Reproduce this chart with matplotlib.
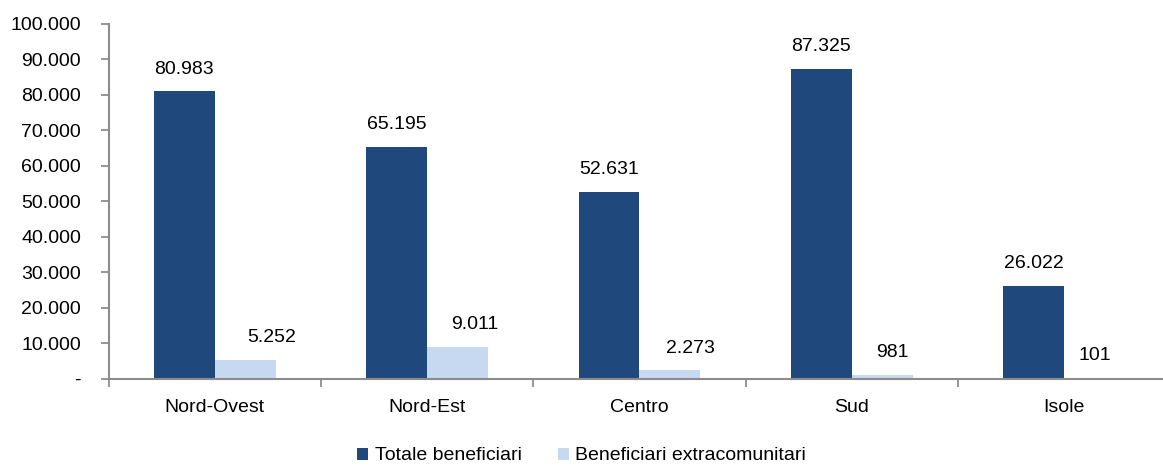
import numpy as np
import matplotlib.pyplot as plt
from matplotlib.ticker import FuncFormatter, FixedLocator

plt.rcParams['font.family'] = ['Liberation Sans', 'DejaVu Sans']

regions = ['Nord-Ovest', 'Nord-Est', 'Centro', 'Sud', 'Isole']
totale = [80983, 65195, 52631, 87325, 26022]
extra = [5252, 9011, 2273, 981, 101]
series_names = ['Totale beneficiari', 'Beneficiari extracomunitari']

# horizontal nudge of the light labels, in points (as placed in the original)
extra_dx = [19, 12, 15, 7, 0]

dark = '#1F497D'
light = '#C6D9F1'
grey = '#8C8C8C'
fs = 14


def fmt_thousands(v, pos=None):
    if v == 0:
        return '-'
    return '{:,.0f}'.format(v).replace(',', '.')


fig = plt.figure(figsize=(11.63, 4.67), dpi=100)
ax = fig.add_axes([108.7 / 1163, 1 - 378.5 / 467,
                   5 * 212.3 / 1163, (378.5 - 24) / 467])

x = np.arange(len(regions))
w = 0.287
b1 = ax.bar(x - w / 2, totale, w, color=dark, label=series_names[0])
b2 = ax.bar(x + w / 2, extra, w, color=light, label=series_names[1])

for xi, v in zip(x, totale):
    ax.annotate(fmt_thousands(v), (xi - w / 2, v), xytext=(0, 10),
                textcoords='offset points', ha='center', va='bottom',
                fontsize=fs)
for xi, v, dx in zip(x, extra, extra_dx):
    ax.annotate(fmt_thousands(v), (xi + w / 2, v), xytext=(dx, 10),
                textcoords='offset points', ha='center', va='bottom',
                fontsize=fs)

ax.set_xlim(-0.5, len(regions) - 0.5)
ax.set_ylim(0, 100000)
ax.set_yticks(np.arange(0, 100001, 10000))
ax.yaxis.set_major_formatter(FuncFormatter(fmt_thousands))
ax.set_xticks(x)
ax.set_xticklabels(regions)
ax.xaxis.set_minor_locator(FixedLocator(np.arange(-0.5, len(regions), 1)))

ax.tick_params(axis='x', which='major', length=0, pad=15, labelsize=fs)
ax.tick_params(axis='x', which='minor', length=6, width=1.3, color=grey)
ax.tick_params(axis='y', length=6, width=1.3, color=grey, pad=14,
               labelsize=fs)

for s in ['top', 'right']:
    ax.spines[s].set_visible(False)
for s in ['left', 'bottom']:
    ax.spines[s].set_color(grey)
    ax.spines[s].set_linewidth(1.5)

fig.legend(handles=[b1, b2], loc='center', bbox_to_anchor=(0.5, 1 - 456 / 467),
           ncol=2, frameon=False, fontsize=fs, handlelength=0.57,
           handleheight=0.57, handletextpad=0.35, columnspacing=1.85)

fig.savefig('out.png', dpi=100)
